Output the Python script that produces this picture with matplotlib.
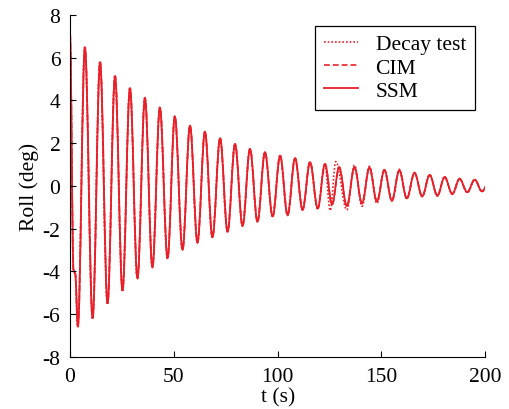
import numpy as np
import matplotlib
matplotlib.use('Agg')
import matplotlib.pyplot as plt
from matplotlib.path import Path
from matplotlib.patches import PathPatch
from matplotlib.lines import Line2D

# ── data: turning points of the roll record ─────────────────────────────────
# time of each peak / trough (s); the last point sits past 200 s and is clipped
t_ext = [0.0, 1.7, 2.5, 3.8, 7.2, 10.9, 14.5, 18.1, 21.7, 25.3, 28.9, 32.5,
         36.1, 39.7, 43.3, 47.0, 50.5, 54.2, 57.8, 61.4, 65.0, 68.6, 72.3,
         75.9, 79.5, 83.1, 86.7, 90.3, 93.9, 97.6, 101.2, 104.8, 108.4,
         112.0, 115.6, 119.3, 122.8, 126.2, 129.6, 133.3, 137.0, 140.6,
         144.2, 147.8, 151.4, 155.0, 158.6, 162.2, 165.9, 169.6, 173.2,
         176.9, 180.4, 184.1, 187.6, 191.3, 194.9, 198.4, 202.0]

t_decay = [0.0, 1.7, 2.5, 3.7, 7.1, 10.8, 14.4, 18.0, 21.6, 25.2, 28.8, 32.4,
           36.0, 39.6, 43.2, 46.9, 50.4, 54.1, 57.7, 61.3, 64.9, 68.5, 72.2,
           75.8, 79.4, 83.0, 86.6, 90.2, 93.8, 97.5, 101.1, 104.7, 108.3,
           111.9, 115.5, 119.2, 122.7, 125.3, 128.0, 133.3, 137.0, 140.6,
           144.2, 147.8, 151.4, 155.0, 158.6, 162.2, 165.9, 169.6, 173.2,
           176.9, 180.4, 184.1, 187.6, 191.3, 194.9, 198.4, 202.0]

roll_decay = [7.1, -3.9, -4.1, -6.6, 6.5, -6.2, 5.8, -5.5, 5.15, -4.9, 4.6,
              -4.35, 4.12, -3.8, 3.66, -3.4, 3.25, -3.0, 2.82, -2.66, 2.54,
              -2.42, 2.23, -2.15, 1.96, -1.88, 1.73, -1.68, 1.58, -1.44, 1.42,
              -1.38, 1.30, -1.12, 1.11, -1.06, 1.03, -1.15, 1.14, -1.12, 0.98,
              -0.95, 0.92, -0.82, 0.76, -0.70, 0.78, -0.60, 0.63, -0.50, 0.53,
              -0.47, 0.43, -0.39, 0.35, -0.31, 0.30, -0.26, 0.25]

roll_cim = [7.1, -3.95, -4.1, -6.55, 6.45, -6.15, 5.8, -5.5, 5.15, -4.88,
            4.58, -4.32, 4.1, -3.8, 3.65, -3.37, 3.24, -2.98, 2.82, -2.64,
            2.53, -2.40, 2.23, -2.13, 1.96, -1.86, 1.73, -1.66, 1.57, -1.42,
            1.41, -1.35, 1.29, -1.11, 1.11, -1.05, 1.02, -0.87, 0.88, -0.94,
            0.87, -0.82, 0.85, -0.72, 0.74, -0.68, 0.72, -0.58, 0.61, -0.48,
            0.51, -0.45, 0.41, -0.37, 0.33, -0.29, 0.29, -0.25, 0.25]

roll_ssm = [7.1, -3.95, -4.1, -6.6, 6.5, -6.2, 5.8, -5.5, 5.15, -4.9, 4.58,
            -4.32, 4.12, -3.8, 3.66, -3.37, 3.25, -2.98, 2.82, -2.64, 2.54,
            -2.40, 2.23, -2.14, 1.96, -1.86, 1.73, -1.67, 1.58, -1.42, 1.42,
            -1.36, 1.30, -1.11, 1.11, -1.05, 1.03, -0.86, 0.88, -0.94, 0.87,
            -0.82, 0.86, -0.72, 0.74, -0.68, 0.72, -0.58, 0.61, -0.48, 0.51,
            -0.45, 0.41, -0.37, 0.33, -0.29, 0.29, -0.25, 0.25]

labels = ['Decay test', 'CIM', 'SSM']
RED = '#e8202a'

plt.rcParams['font.family'] = ['Liberation Serif', 'DejaVu Serif']
plt.rcParams['font.size'] = 15.5
plt.rcParams['axes.unicode_minus'] = False


def wave_path(t, y, k=0.364):
    # smooth curve through the turning points, flat tangent at each one
    verts = [(t[0], y[0])]
    codes = [Path.MOVETO]
    for t0, y0, t1, y1 in zip(t[:-1], y[:-1], t[1:], y[1:]):
        dt = t1 - t0
        verts += [(t0 + k * dt, y0), (t1 - k * dt, y1), (t1, y1)]
        codes += [Path.CURVE4] * 3
    return Path(verts, codes)


fig = plt.figure(figsize=(5.09, 4.10), dpi=100)
ax = fig.add_axes([0.1375, 0.127, 0.816, 0.834])

styles = [dict(linestyle=(0, (1, 1.2)), linewidth=1.2),
          dict(linestyle=(0, (3.5, 1.8)), linewidth=1.2),
          dict(linestyle='-', linewidth=1.3)]
series = [(t_decay, roll_decay), (t_ext, roll_cim), (t_ext, roll_ssm)]

for (tt, yy), st in zip(series, styles):
    ax.add_patch(PathPatch(wave_path(tt, yy), fill=False, edgecolor=RED,
                           **st))

ax.set_xlim(0, 200)
ax.set_ylim(-8, 8)
ax.set_xticks([0, 50, 100, 150, 200])
ax.set_yticks(np.arange(-8, 9, 2))
ax.set_xlabel('t (s)', labelpad=1)
ax.set_ylabel('Roll (deg)', labelpad=2)
ax.tick_params(direction='in', length=4, width=0.8)
ax.tick_params(axis='y', pad=7)
ax.tick_params(axis='x', pad=7)
ax.spines[['top', 'right']].set_visible(False)

handles = [Line2D([], [], color=RED, **st) for st in styles]
leg = ax.legend(handles, labels, loc='upper right', fancybox=False,
                framealpha=1, edgecolor='black', handlelength=1.6,
                handletextpad=0.8, labelspacing=0.15, borderpad=0.4)
leg.get_frame().set_linewidth(0.9)

fig.savefig('out.png', dpi=100)
